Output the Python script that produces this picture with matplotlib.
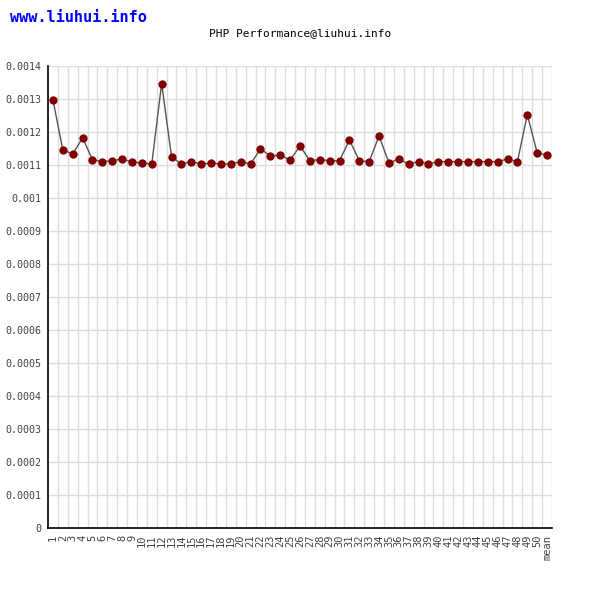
import matplotlib
matplotlib.use("Agg")
import matplotlib.pyplot as plt
import numpy as np

categories = [str(i) for i in range(1, 51)] + ["mean"]
values = [0.001296, 0.0011445, 0.0011324, 0.001181, 0.0011152, 0.001109, 0.001112,
          0.001117, 0.001108, 0.001105, 0.001102, 0.0013455, 0.001124, 0.001102,
          0.001109, 0.001102, 0.001105, 0.001102, 0.001102, 0.001109, 0.001102,
          0.0011475, 0.0011263, 0.001129, 0.001114, 0.0011566, 0.001112, 0.0011152,
          0.001112, 0.001112, 0.0011748, 0.001112, 0.001109, 0.001187, 0.001105,
          0.001117, 0.001102, 0.001109, 0.001102, 0.001109, 0.001109, 0.001109,
          0.001109, 0.001109, 0.001109, 0.001109, 0.001117, 0.001109, 0.0012515,
          0.0011354, 0.001129]
yticks = [i * 0.0001 for i in range(15)]
ytick_labels = [("%.4f" % v).rstrip("0").rstrip(".") for v in yticks]

plt.rcParams['font.family'] = ['DejaVu Sans Mono']
fig = plt.figure(figsize=(6, 6), dpi=100)
ax = fig.add_axes([0.08, 0.12, 0.84, 0.7708])

x = np.arange(1, len(categories) + 1)
ax.plot(x, values, color="#555555", lw=1, zorder=3)
ax.plot(x, values, 'o', color="#800000", markersize=6, markeredgewidth=0, zorder=4)

ax.set_xlim(0.5, len(categories) + 0.5)
ax.set_ylim(0, 0.0014)
ax.set_yticks(yticks)
ax.set_yticklabels(ytick_labels, fontsize=7.2, color="#444444")
ax.set_xticks(x)
ax.set_xticklabels(categories, rotation=90, fontsize=7.5, color="#444444")
ax.tick_params(length=0, pad=5)

for b in np.arange(1.5, len(categories) + 0.6, 1):
    ax.axvline(b, color="#dddddd", lw=1, zorder=1)
for yv in yticks[1:]:
    ax.axhline(yv, color="#dddddd", lw=1, zorder=1)

for s in ["top", "right"]:
    ax.spines[s].set_visible(False)
ax.spines["left"].set_color("black")
ax.spines["bottom"].set_color("black")
ax.spines["left"].set_linewidth(1.2)
ax.spines["bottom"].set_linewidth(1.2)

fig.text(10/600, 1 - 18/600, "www.liuhui.info", color="#0000ff", fontsize=11,
         fontweight="bold", ha="left", va="center")
fig.text(300/600, 1 - 33/600, "PHP Performance@liuhui.info", color="black",
         fontsize=8, ha="center", va="center")

fig.savefig("out.png", dpi=100, facecolor="white")
